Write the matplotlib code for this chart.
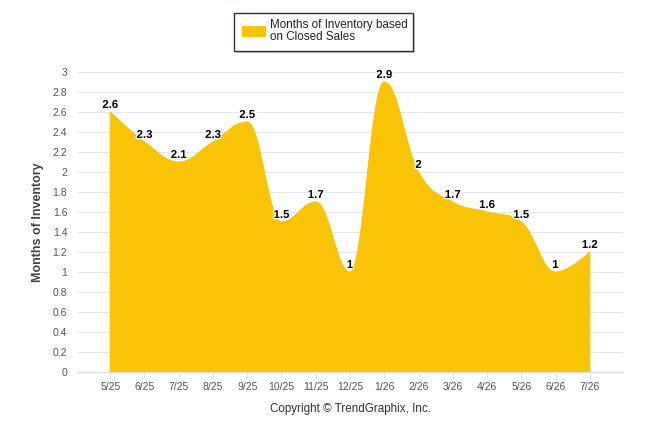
import numpy as np
import matplotlib
matplotlib.use('Agg')
import matplotlib.pyplot as plt
from matplotlib.path import Path
from matplotlib.patches import PathPatch, Rectangle
import matplotlib.patheffects as pe

months = ['5/25', '6/25', '7/25', '8/25', '9/25', '10/25', '11/25', '12/25',
          '1/26', '2/26', '3/26', '4/26', '5/26', '6/26', '7/26']
inventory = [2.6, 2.3, 2.1, 2.3, 2.5, 1.5, 1.7, 1, 2.9, 2, 1.7, 1.6, 1.5, 1, 1.2]
value_labels = ['2.6', '2.3', '2.1', '2.3', '2.5', '1.5', '1.7', '1',
                '2.9', '2', '1.7', '1.6', '1.5', '1', '1.2']
y_ticks = [0, 0.2, 0.4, 0.6, 0.8, 1, 1.2, 1.4, 1.6, 1.8, 2, 2.2, 2.4, 2.6, 2.8, 3]

fill_color = '#F8C405'
plt.rcParams['font.family'] = ['Liberation Sans', 'DejaVu Sans']


def spline_controls(xs, ys, smoothing=1.5):
    # Highcharts style spline control points
    n = len(xs)
    left = [(x, y) for x, y in zip(xs, ys)]
    right = [(x, y) for x, y in zip(xs, ys)]
    denom = smoothing + 1
    for i in range(1, n - 1):
        x, y = xs[i], ys[i]
        lx, ly = xs[i - 1], ys[i - 1]
        nx, ny = xs[i + 1], ys[i + 1]
        lcx = (smoothing * x + lx) / denom
        lcy = (smoothing * y + ly) / denom
        rcx = (smoothing * x + nx) / denom
        rcy = (smoothing * y + ny) / denom
        if rcx != lcx:
            corr = ((rcy - lcy) * (rcx - x)) / (rcx - lcx) + y - rcy
            lcy += corr
            rcy += corr
        if lcy > ly and lcy > y:
            lcy = max(ly, y)
            rcy = 2 * y - lcy
        elif lcy < ly and lcy < y:
            lcy = min(ly, y)
            rcy = 2 * y - lcy
        if rcy > ny and rcy > y:
            rcy = max(ny, y)
            lcy = 2 * y - rcy
        elif rcy < ny and rcy < y:
            rcy = min(ny, y)
            lcy = 2 * y - rcy
        left[i] = (lcx, lcy)
        right[i] = (rcx, rcy)
    return left, right


fig = plt.figure(figsize=(6.46, 4.34), dpi=100)
ax = fig.add_axes([77 / 646, 1 - 372 / 434, 546 / 646, 300 / 434])

xs = list(range(len(inventory)))
left, right = spline_controls(xs, inventory)

verts = [(xs[0], 0), (xs[0], inventory[0])]
codes = [Path.MOVETO, Path.LINETO]
for i in range(1, len(xs)):
    verts += [right[i - 1], left[i], (xs[i], inventory[i])]
    codes += [Path.CURVE4] * 3
verts += [(xs[-1], 0), (xs[0], 0)]
codes += [Path.LINETO, Path.CLOSEPOLY]
ax.add_patch(PathPatch(Path(verts, codes), facecolor=fill_color, edgecolor=fill_color,
                       linewidth=0.8, zorder=2))

for x, v, lab in zip(xs, inventory, value_labels):
    ax.annotate(lab, (x, v), xytext=(0, 1.5), textcoords='offset points',
                ha='center', va='bottom', fontsize=8.2, fontweight='bold', color='black',
                path_effects=[pe.withStroke(linewidth=2, foreground='white')], zorder=5)

ax.set_xlim(-0.97, 14.97)
ax.set_ylim(0, 3)
ax.set_xticks(xs)
ax.set_xticklabels(months)
ax.set_yticks(y_ticks)
ax.set_yticklabels([('%g' % t) for t in y_ticks])
ax.grid(axis='y', color='#e6e6e6', linewidth=0.8, zorder=0)
ax.set_axisbelow(True)

for s in ['top', 'right', 'left']:
    ax.spines[s].set_visible(False)
ax.spines['bottom'].set_color('#e0e0e0')
ax.spines['bottom'].set_linewidth(1)
ax.spines['bottom'].set_zorder(1)

ax.tick_params(axis='x', length=4, color='#e0e0e0', labelsize=7.5, labelcolor='#555555', pad=3)
ax.tick_params(axis='y', length=0, labelsize=7.5, labelcolor='#555555', pad=7)
ax.set_facecolor('white')

fig.text(38 / 646, 1 - 222 / 434, 'Months of Inventory', rotation=90, ha='center', va='center',
         fontsize=9, fontweight='bold', color='#444444')
fig.text(350 / 646, 1 - 409 / 434, 'Copyright \u00a9 TrendGraphix, Inc.', ha='center', va='center',
         fontsize=8.4, color='#333333')

# legend box with shadow
fig.patches.append(Rectangle((236 / 646, 1 - 53 / 434), 179 / 646, 38 / 434,
                             transform=fig.transFigure, facecolor='#aaaaaa', edgecolor='none',
                             alpha=0.6, zorder=1))
fig.patches.append(Rectangle((234 / 646, 1 - 51 / 434), 179 / 646, 38 / 434,
                             transform=fig.transFigure, facecolor='white', edgecolor='#1f2e4d',
                             linewidth=1, zorder=2))
fig.patches.append(Rectangle((242 / 646, 1 - 37 / 434), 24 / 646, 11 / 434,
                             transform=fig.transFigure, facecolor=fill_color, edgecolor='none',
                             zorder=3))
fig.text(270 / 646, 1 - 31 / 434, 'Months of Inventory based\non Closed Sales', ha='left',
         va='center', fontsize=8.4, color='#222222', linespacing=1.0, zorder=4)

fig.savefig('out.png', dpi=100)
